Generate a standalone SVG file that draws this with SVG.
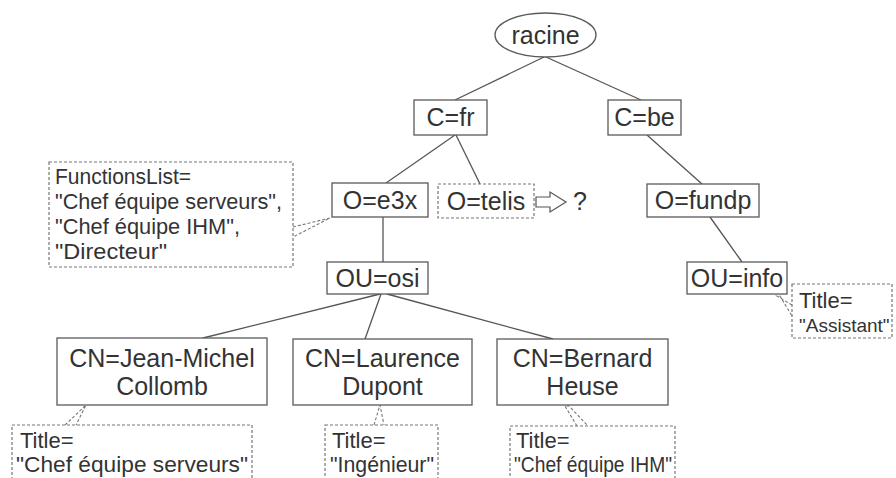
<svg xmlns="http://www.w3.org/2000/svg" width="896" height="478" viewBox="0 0 896 478">
  <style>
    .node { fill: #ffffff; stroke: #5a5a5a; stroke-width: 1.3; }
    .label { font-family: "Liberation Sans", Arial, sans-serif; font-size: 25px; fill: #333333; text-anchor: middle; }
    .note { fill: #ffffff; stroke: #777777; stroke-width: 1.2; stroke-dasharray: 3 2; }
    .notetext { font-family: "Liberation Sans", Arial, sans-serif; font-size: 22px; fill: #333333; }
    .small { font-size: 19px; }
    .edge { stroke: #555555; stroke-width: 1.3; fill: none; }
    .tie { stroke: #777777; stroke-width: 1.1; stroke-dasharray: 3 2; fill: none; }
  </style>
  <rect x="0" y="0" width="896" height="478" fill="#ffffff"/>

  <!-- tree edges and note ties -->
  <g id="connectors">
    <line class="edge" x1="544" y1="57" x2="455" y2="100"/>
    <line class="edge" x1="546" y1="57" x2="641" y2="100"/>
    <line class="edge" x1="455" y1="135" x2="386" y2="183"/>
    <line class="edge" x1="456" y1="135" x2="480" y2="184"/>
    <line class="edge" x1="647" y1="135" x2="702" y2="184"/>
    <line class="edge" x1="710" y1="217" x2="742" y2="262"/>
    <line class="edge" x1="383" y1="217" x2="383" y2="262"/>
    <line class="edge" x1="380" y1="294" x2="203" y2="338"/>
    <line class="edge" x1="381" y1="294" x2="365" y2="339"/>
    <line class="edge" x1="387" y1="294" x2="553" y2="339"/>

    <path class="tie" d="M293 227 L330 218 L293 237"/>
    <path class="tie" d="M65 425 L86 405 L76 425"/>
    <path class="tie" d="M374 425 L380 405 L384 425"/>
    <path class="tie" d="M577 426 L565 406 L569 406 L588 426"/>
    <path class="tie" d="M792 305 L777 296 L780 296 L792 316"/>
  </g>

  <g id="racine">
    <ellipse class="node" cx="545.5" cy="35" rx="50.5" ry="22"/>
    <text class="label" x="545.5" y="44">racine</text>
  </g>

  <g id="c-fr">
    <rect class="node" x="414" y="100" width="73" height="35"/>
    <text class="label" x="450.5" y="126">C=fr</text>
  </g>

  <g id="c-be">
    <rect class="node" x="608" y="100" width="73" height="35"/>
    <text class="label" x="644.5" y="126">C=be</text>
  </g>

  <g id="o-e3x">
    <rect class="node" x="332" y="183" width="96" height="34"/>
    <text class="label" x="380" y="209">O=e3x</text>
  </g>

  <g id="o-telis">
    <rect class="note" x="438" y="184" width="96" height="34" stroke-dasharray="2 1.5"/>
    <text class="label" x="486" y="210">O=telis</text>
    <path d="M536 197 L550 197 L550 192 L566 202 L550 212 L550 207 L536 207 Z" fill="#ffffff" stroke="#555555" stroke-width="1.2"/>
    <text class="label" x="580" y="210">?</text>
  </g>

  <g id="o-fundp">
    <rect class="node" x="647" y="184" width="112" height="33"/>
    <text class="label" x="703" y="209">O=fundp</text>
  </g>

  <g id="ou-osi">
    <rect class="node" x="327" y="262" width="101" height="32"/>
    <text class="label" x="377.5" y="287">OU=osi</text>
  </g>

  <g id="ou-info">
    <rect class="node" x="687" y="262" width="100" height="32"/>
    <text class="label" x="737" y="287">OU=info</text>
  </g>

  <g id="cn-collomb">
    <rect class="node" x="57" y="338" width="210" height="67"/>
    <text class="label" x="162" y="367">CN=Jean-Michel</text>
    <text class="label" x="162" y="395">Collomb</text>
  </g>

  <g id="cn-dupont">
    <rect class="node" x="293" y="339" width="179" height="66"/>
    <text class="label" x="382.5" y="367">CN=Laurence</text>
    <text class="label" x="382.5" y="395">Dupont</text>
  </g>

  <g id="cn-heuse">
    <rect class="node" x="497" y="339" width="171" height="66"/>
    <text class="label" x="582.5" y="367">CN=Bernard</text>
    <text class="label" x="582.5" y="395">Heuse</text>
  </g>

  <!-- attribute notes -->
  <g id="note-functions">
    <rect class="note" x="49" y="162" width="244" height="105"/>
    <text class="notetext" x="55" y="184" textLength="136" lengthAdjust="spacingAndGlyphs">FunctionsList=</text>
    <text class="notetext" x="55" y="209" textLength="227" lengthAdjust="spacingAndGlyphs">"Chef équipe serveurs",</text>
    <text class="notetext" x="55" y="234" textLength="185" lengthAdjust="spacingAndGlyphs">"Chef équipe IHM",</text>
    <text class="notetext" x="55" y="259" textLength="112" lengthAdjust="spacingAndGlyphs">"Directeur"</text>
  </g>

  <g id="note-assistant">
    <rect class="note" x="792" y="284" width="100" height="54"/>
    <text class="notetext" x="799" y="308">Title=</text>
    <text class="notetext small" x="799" y="332">"Assistant"</text>
  </g>

  <g id="note-collomb">
    <rect class="note" x="12" y="425" width="240" height="70"/>
    <text class="notetext" x="20" y="448">Title=</text>
    <text class="notetext" x="16" y="472" textLength="232" lengthAdjust="spacingAndGlyphs">"Chef équipe serveurs"</text>
  </g>

  <g id="note-dupont">
    <rect class="note" x="325" y="425" width="113" height="70"/>
    <text class="notetext" x="332" y="448">Title=</text>
    <text class="notetext" x="330" y="472" textLength="104" lengthAdjust="spacingAndGlyphs">"Ingénieur"</text>
  </g>

  <g id="note-heuse">
    <rect class="note" x="510" y="426" width="165" height="70"/>
    <text class="notetext" x="516" y="448">Title=</text>
    <text class="notetext" x="514" y="472" textLength="158" lengthAdjust="spacingAndGlyphs">"Chef équipe IHM"</text>
  </g>
</svg>
